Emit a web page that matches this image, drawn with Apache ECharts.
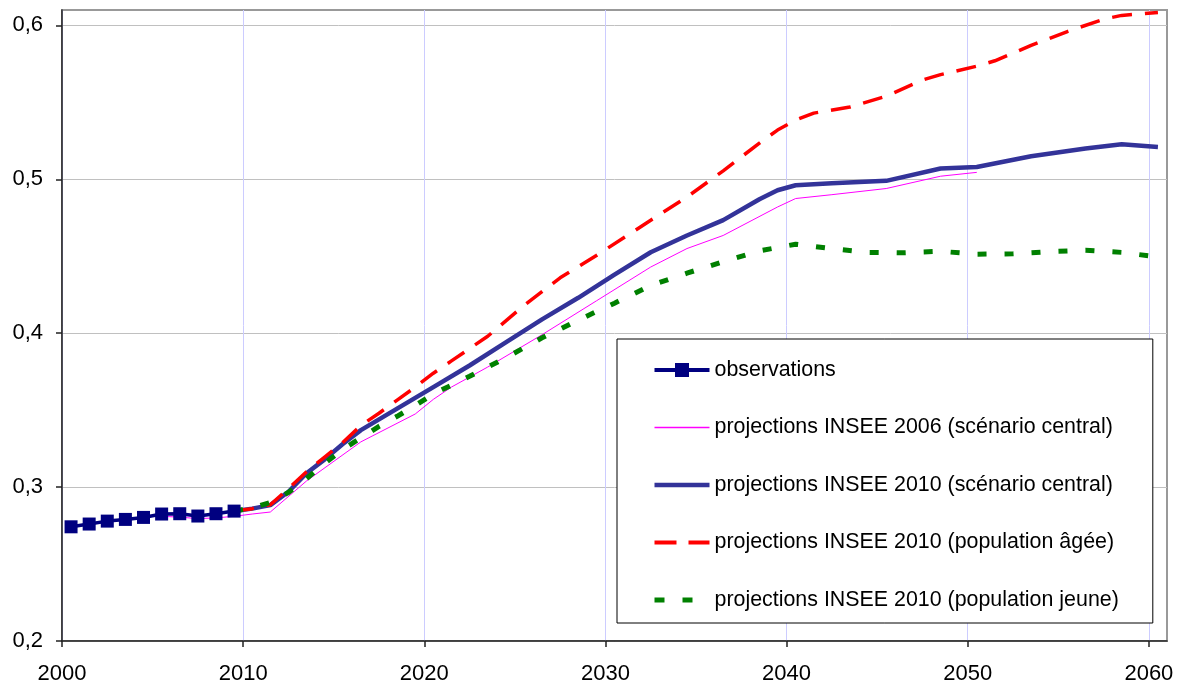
<!DOCTYPE html>
<html>
<head>
<meta charset="utf-8">
<script src="https://cdn.jsdelivr.net/npm/echarts@6/dist/echarts.min.js"></script>
<style>
  html, body { margin: 0; padding: 0; background: #fff; }
  #chart { width: 1196px; height: 688px; }
</style>
</head>
<body>
<div id="chart"></div>
<script>
// Observed values, 2000-2009
const obsYears = [2000, 2001, 2002, 2003, 2004, 2005, 2006, 2007, 2008, 2009];
const obsValues = [0.2742, 0.2760, 0.2779, 0.2790, 0.2803, 0.2825, 0.2827, 0.2812, 0.2827, 0.2844];

// INSEE 2006 projections, central scenario
const proj2006Years = [2005, 2006, 2007, 2008, 2009, 2010, 2011, 2013, 2016, 2019, 2020, 2021, 2023, 2026, 2029, 2032, 2034, 2036, 2039, 2040, 2042, 2045, 2048, 2050];
const proj2006Values = [0.2810, 0.2805, 0.2795, 0.2800, 0.2810, 0.2825, 0.2838, 0.3040, 0.3294, 0.3475, 0.3570, 0.3650, 0.3780, 0.3990, 0.4210, 0.4430, 0.4550, 0.4635, 0.4820, 0.4875, 0.4900, 0.4940, 0.5020, 0.5045];

// INSEE 2010 projections, central scenario
const centralYears = [2009, 2010, 2011, 2012, 2013, 2014, 2015, 2016, 2017, 2018, 2019, 2020, 2022, 2024, 2026, 2028, 2030, 2032, 2034, 2036, 2038, 2039, 2040, 2042, 2045, 2048, 2050, 2053, 2056, 2058, 2060];
const centralValues = [0.2844, 0.2860, 0.2883, 0.2970, 0.3090, 0.3180, 0.3280, 0.3370, 0.3440, 0.3510, 0.3580, 0.3650, 0.3790, 0.3940, 0.4090, 0.4230, 0.4380, 0.4526, 0.4635, 0.4735, 0.4870, 0.4929, 0.4961, 0.4975, 0.4990, 0.5070, 0.5080, 0.5150, 0.5200, 0.5227, 0.5210];

// INSEE 2010 projections, older population
const oldYears = [2009, 2010, 2011, 2012, 2013, 2014, 2015, 2016, 2017, 2018, 2019, 2020, 2021, 2023, 2025, 2027, 2029, 2032, 2034, 2036, 2038, 2039, 2040, 2041, 2043, 2045, 2047, 2048, 2050, 2051, 2053, 2055, 2057, 2058, 2060];
const oldValues = [0.2844, 0.2860, 0.2885, 0.2990, 0.3100, 0.3195, 0.3290, 0.3400, 0.3480, 0.3565, 0.3650, 0.3740, 0.3820, 0.3980, 0.4180, 0.4360, 0.4505, 0.4734, 0.4885, 0.5055, 0.5235, 0.5320, 0.5385, 0.5430, 0.5470, 0.5540, 0.5645, 0.5680, 0.5735, 0.5770, 0.5870, 0.5960, 0.6040, 0.6065, 0.6084];

// INSEE 2010 projections, younger population
const youngYears = [2009, 2010, 2011, 2012, 2013, 2014, 2015, 2016, 2017, 2018, 2019, 2020, 2022, 2024, 2026, 2028, 2030, 2032, 2034, 2036, 2038, 2040, 2042, 2044, 2046, 2048, 2050, 2052, 2054, 2056, 2058, 2060];
const youngValues = [0.2844, 0.2865, 0.2900, 0.2965, 0.3055, 0.3155, 0.3245, 0.3320, 0.3395, 0.3460, 0.3530, 0.3605, 0.3720, 0.3840, 0.3970, 0.4085, 0.4195, 0.4310, 0.4390, 0.4465, 0.4535, 0.4578, 0.4550, 0.4525, 0.4523, 0.4532, 0.4513, 0.4516, 0.4530, 0.4539, 0.4525, 0.4495];

// Axis tick labels
const xTicks = [2000, 2010, 2020, 2030, 2040, 2050, 2060];
const yTicks = [0.2, 0.3, 0.4, 0.5, 0.6];

// Series names, as shown in the legend
const NAME_OBS = 'observations';
const NAME_2006 = 'projections INSEE 2006 (scénario central)';
const NAME_CENTRAL = 'projections INSEE 2010 (scénario central)';
const NAME_OLD = 'projections INSEE 2010 (population âgée)';
const NAME_YOUNG = 'projections INSEE 2010 (population jeune)';

// Each annual value is drawn at mid-year on the continuous year axis
function toPoints(years, values) {
  return years.map((y, i) => [y + 0.5, values[i]]);
}

const FONT = 'Arial, "Liberation Sans", sans-serif';

// Line styles of the series
const STYLE = {
  obs:     { color: '#000080', width: 3.5 },
  p2006:   { color: '#ff00ff', width: 1 },
  central: { color: '#333399', width: 4.5 },
  old:     { color: '#ff0000', width: 3.5, type: [20, 13] },
  young:   { color: '#008000', width: 5, type: [9, 18] }
};

// Legend key without a marker (line only)
const noMarker = { opacity: 0 };

const chart = echarts.init(document.getElementById('chart'), null, { renderer: 'canvas' });

chart.setOption({
  animation: false,
  backgroundColor: '#ffffff',
  grid: {
    left: 62, top: 10, right: 29, bottom: 47,
    show: true,
    borderColor: '#999999',
    borderWidth: 2,
    backgroundColor: '#ffffff'
  },
  xAxis: {
    type: 'value',
    min: 2000,
    max: 2061,
    interval: 10,
    axisLine: { show: true, onZero: false, lineStyle: { color: '#222', width: 1.5 } },
    axisTick: { show: true, length: 6, customValues: xTicks, lineStyle: { color: '#222', width: 1.5 } },
    axisLabel: {
      customValues: xTicks,
      margin: 22,
      color: '#000',
      fontFamily: FONT,
      fontSize: 22,
      formatter: v => String(v)
    },
    splitLine: { show: true, lineStyle: { color: '#ccccff', width: 1 } }
  },
  yAxis: {
    type: 'value',
    min: 0.2,
    max: 0.61,
    interval: 0.1,
    axisLine: { show: true, onZero: false, lineStyle: { color: '#222', width: 1.5 } },
    axisTick: { show: true, length: 6, customValues: yTicks, lineStyle: { color: '#222', width: 1.5 } },
    axisLabel: {
      customValues: yTicks,
      margin: 19,
      color: '#000',
      fontFamily: FONT,
      fontSize: 22,
      formatter: v => v.toFixed(1).replace('.', ',')
    },
    splitLine: { show: true, lineStyle: { color: '#c0c0c0', width: 1 } }
  },
  legend: {
    orient: 'vertical',
    left: 617,
    top: 339,
    padding: [19, 34, 11, 35],
    itemWidth: 55,
    itemHeight: 17.5,
    itemGap: 33.5,
    backgroundColor: '#ffffff',
    borderColor: '#000000',
    borderWidth: 1,
    borderRadius: 0,
    textStyle: { color: '#000', fontFamily: FONT, fontSize: 21.4, lineHeight: 24 },
    data: [
      { name: NAME_OBS, lineStyle: { width: 4 } },
      { name: NAME_2006, lineStyle: { width: 1.5 }, itemStyle: noMarker },
      { name: NAME_CENTRAL, lineStyle: { width: 4.5 }, itemStyle: noMarker },
      { name: NAME_OLD, lineStyle: { width: 4, type: [22, 12] }, itemStyle: noMarker },
      { name: NAME_YOUNG, lineStyle: { width: 5, type: [10, 18] }, itemStyle: noMarker }
    ]
  },
  series: [
    {
      name: NAME_2006,
      type: 'line',
      data: toPoints(proj2006Years, proj2006Values),
      symbol: 'none',
      lineStyle: STYLE.p2006,
      itemStyle: { color: STYLE.p2006.color },
      z: 2
    },
    {
      name: NAME_CENTRAL,
      type: 'line',
      data: toPoints(centralYears, centralValues),
      symbol: 'none',
      lineStyle: STYLE.central,
      itemStyle: { color: STYLE.central.color },
      z: 3
    },
    {
      name: NAME_OLD,
      type: 'line',
      data: toPoints(oldYears, oldValues),
      symbol: 'none',
      lineStyle: STYLE.old,
      itemStyle: { color: STYLE.old.color },
      z: 4
    },
    {
      name: NAME_YOUNG,
      type: 'line',
      data: toPoints(youngYears, youngValues),
      symbol: 'none',
      lineStyle: STYLE.young,
      itemStyle: { color: STYLE.young.color },
      z: 5
    },
    {
      name: NAME_OBS,
      type: 'line',
      data: toPoints(obsYears, obsValues),
      symbol: 'rect',
      symbolSize: 13,
      showAllSymbol: true,
      lineStyle: STYLE.obs,
      itemStyle: { color: STYLE.obs.color },
      z: 6
    }
  ]
});
</script>
</body>
</html>
